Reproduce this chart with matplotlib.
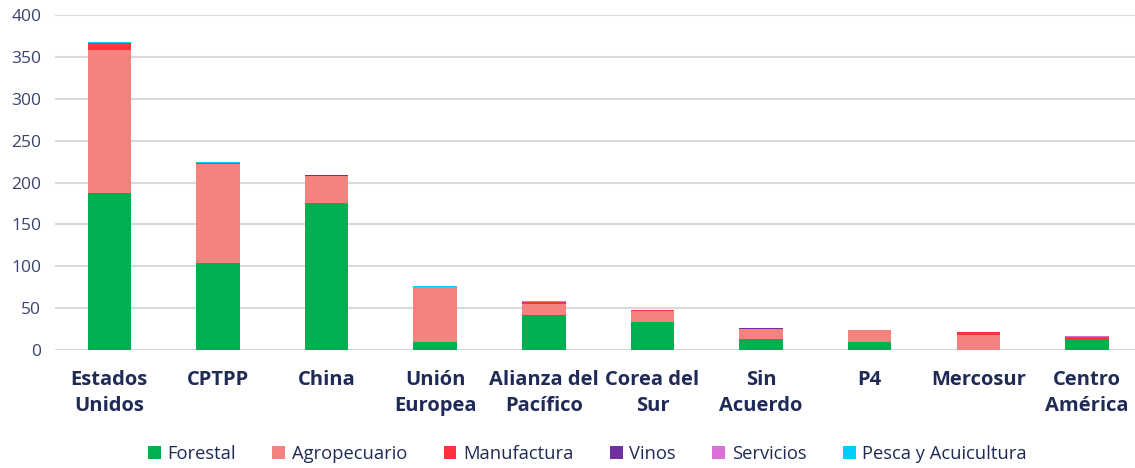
#!/usr/bin/env python3

import numpy as np
import matplotlib.pyplot as plt

categorias = ["Estados\nUnidos", "CPTPP", "China", "Unión\nEuropea", "Alianza del\nPacífico",
              "Corea del\nSur", "Sin\nAcuerdo", "P4", "Mercosur", "Centro\nAmérica"]

forestal = [187, 104, 175, 10, 42, 33.5, 13, 10, 0.5, 12]
agropecuario = [171, 118, 33, 65, 13, 13.5, 12, 14, 17.5, 0.5]
manufactura = [8, 1, 0.3, 0.3, 2.5, 0.3, 0.3, 0.2, 3, 3]
vinos = [0.2, 0.2, 0.1, 0.1, 0.3, 0.1, 0.5, 0.1, 0.1, 0.3]
servicios = [0.3, 0.3, 0.2, 0.2, 0.5, 0.2, 0.5, 0.1, 0.1, 0.7]
pesca = [0.8, 0.8, 0.3, 0.8, 0.2, 0.7, 0.2, 0.1, 0.1, 0.2]

series = [
    ("Forestal", forestal, "#00B050"),
    ("Agropecuario", agropecuario, "#F4827F"),
    ("Manufactura", manufactura, "#FF3340"),
    ("Vinos", vinos, "#7030A0"),
    ("Servicios", servicios, "#DA70D6"),
    ("Pesca y Acuicultura", pesca, "#00CCFF"),
]

navy = "#1F2A56"


def main():
    plt.rcParams["font.family"] = ["Open Sans", "DejaVu Sans"]
    fig = plt.figure(figsize=(11.35, 4.68), dpi=100)
    ax = fig.add_axes([0.0485, 0.252, 0.957, 0.716])

    x = np.arange(len(categorias))
    bottom = np.zeros(len(categorias))
    for nombre, valores, color in series:
        ax.bar(x, valores, 0.4, bottom=bottom, color=color, label=nombre, zorder=3)
        bottom += np.array(valores)

    ax.set_ylim(0, 400)
    ax.set_xlim(-0.5, len(categorias) - 0.5)
    ax.set_yticks(range(0, 401, 50))
    ax.yaxis.grid(True, color="#D9D9D9", linewidth=1.5, zorder=0)
    for s in ax.spines.values():
        s.set_visible(False)
    ax.tick_params(axis="both", length=0)
    ax.tick_params(axis="y", labelsize=12.5, labelcolor="#3A4470", pad=10)
    ax.set_xticks(x)
    ax.set_xticklabels(categorias, fontsize=14.5, fontweight="bold", color=navy,
                       linespacing=1.4)
    ax.tick_params(axis="x", pad=14)

    ax.legend(loc="center", bbox_to_anchor=(0.49, -0.31), ncol=6, frameon=False,
              fontsize=13.2, handlelength=0.7, handleheight=0.7, handletextpad=0.35,
              columnspacing=2.0, labelcolor=navy)

    fig.savefig("out.png", dpi=100)


if __name__ == "__main__":
    main()
